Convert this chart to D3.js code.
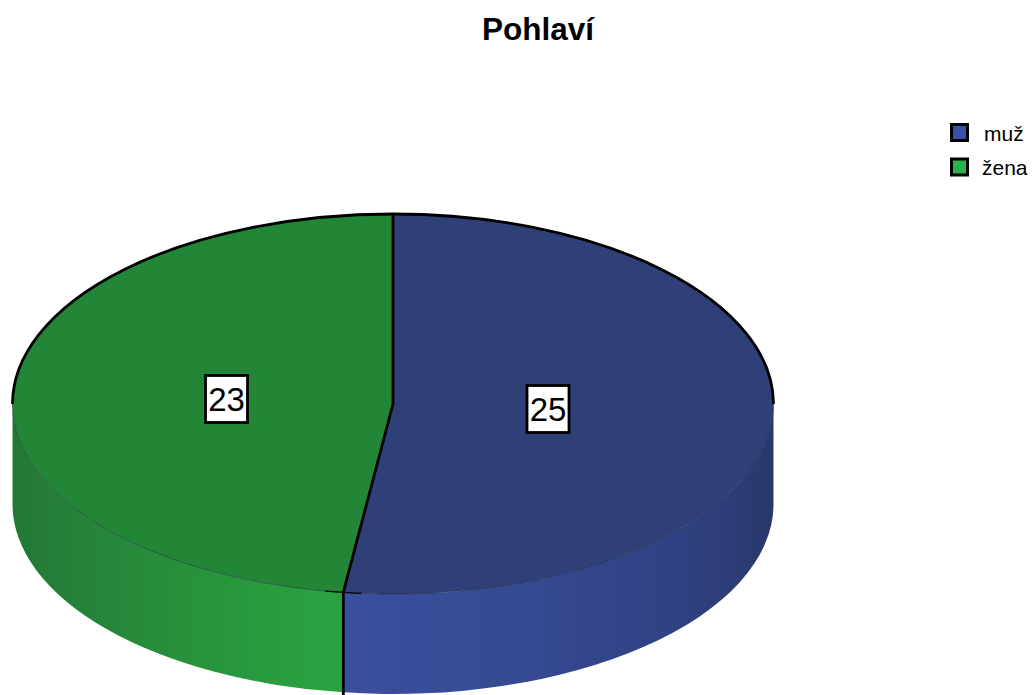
<!DOCTYPE html>
<html><head><meta charset="utf-8">
<script src="https://cdn.jsdelivr.net/npm/d3@7"></script>
<style>html,body{margin:0;padding:0;background:#fff}svg{display:block}text{font-family:"Liberation Sans",Arial,sans-serif}</style>
</head><body><svg id="c" width="1034" height="695"></svg>
<script>
const title = "Pohlaví";
const categories = ["muž", "žena"];
const counts = [25, 23];
const topColors = ["#2f4079", "#238636"];
const legendColors = ["#3b50a3", "#2bb04a"];

const svg = d3.select("#c");
const cx = 393, cy = 404, rx = 380.5, ry = 190, depth = 100;
const pieData = d3.pie().sort(null).value(d => d)(counts);
const ex = a => cx + rx * Math.sin(a), ey = a => cy - ry * Math.cos(a);

const defs = svg.append("defs");
const sideX = d3.scaleLinear().domain([13, 343, 773]).range([0, 0.434, 1]);
const grads = [
  [[343,"#3a4f9e"],[520,"#364a93"],[650,"#314385"],[730,"#2d3d78"],[773,"#29376a"]],
  [[13,"#237835"],[90,"#25843a"],[200,"#27933b"],[300,"#2a9f3e"],[343,"#2ba240"]]
];
grads.forEach((stops, i) => {
  const g = defs.append("linearGradient").attr("id", "side" + i)
    .attr("gradientUnits", "userSpaceOnUse").attr("x1", 13).attr("x2", 773).attr("y1", 0).attr("y2", 0);
  stops.forEach(s => g.append("stop").attr("offset", sideX(s[0])).attr("stop-color", s[1]));
});

function sidePath(a0, a1) {
  // only the front-facing part of the rim (angles between 90° and 270°)
  const s = Math.max(a0, Math.PI / 2), e = Math.min(a1, 3 * Math.PI / 2);
  return `M${ex(s)},${ey(s)}A${rx},${ry} 0 0 1 ${ex(e)},${ey(e)}L${ex(e)},${ey(e) + depth}A${rx},${ry} 0 0 0 ${ex(s)},${ey(s) + depth}Z`;
}
pieData.forEach((d, i) => {
  svg.append("path").attr("d", sidePath(d.startAngle, d.endAngle)).attr("fill", `url(#side${i})`);
});

const arcGen = d3.arc().innerRadius(0).outerRadius(rx);
const topG = svg.append("g").attr("transform", `translate(${cx},${cy}) scale(1,${ry / rx})`);
topG.selectAll("path").data(pieData).join("path").attr("d", arcGen).attr("fill", (d, i) => topColors[i]);

// thin front rim, heavier back rim
svg.append("path").attr("d", `M${ex(Math.PI*1.5)},${ey(Math.PI*1.5)}A${rx},${ry} 0 0 0 ${ex(Math.PI*.5)},${ey(Math.PI*.5)}`)
  .attr("fill", "none").attr("stroke", "#10203a").attr("stroke-opacity", .75).attr("stroke-width", .7);
svg.append("path").attr("d", `M${ex(Math.PI*1.5)},${ey(Math.PI*1.5)}A${rx},${ry} 0 0 1 ${ex(Math.PI*.5)},${ey(Math.PI*.5)}`)
  .attr("fill", "none").attr("stroke", "#000").attr("stroke-width", 2.8);

// slice boundaries
const split = pieData[0].endAngle;
svg.append("path").attr("d", `M${cx},${cy - ry}L${cx},${cy}L${ex(split)},${ey(split)}L${ex(split)},${ey(split) + depth + 4}`)
  .attr("fill", "none").attr("stroke", "#000").attr("stroke-width", 2.8).attr("stroke-linejoin", "round");
svg.append("path").attr("d", `M${ex(split)-18},${ey(split)-1.2}L${ex(split)},${ey(split)}L${ex(split)+18},${ey(split)+1}`)
  .attr("fill", "none").attr("stroke", "#000").attr("stroke-width", 1.2);

// value labels
const labelPos = [[548, 409], [226.5, 399]];
counts.forEach((v, i) => {
  const [x, y] = labelPos[i];
  svg.append("rect").attr("x", x - 21).attr("y", y - 23.5).attr("width", 42).attr("height", 47)
    .attr("fill", "#fff").attr("stroke", "#000").attr("stroke-width", 2.8);
  svg.append("text").attr("x", x).attr("y", y + 12).attr("text-anchor", "middle")
    .attr("font-size", 33).attr("fill", "#000").text(v);
});

svg.append("text").attr("x", 538).attr("y", 40).attr("text-anchor", "middle")
  .attr("font-size", 31.5).attr("font-weight", "bold").attr("fill", "#000").text(title);

const legY = d3.scalePoint().domain(categories).range([132.5, 167]);
categories.forEach((c, i) => {
  svg.append("rect").attr("x", 951.5).attr("y", legY(c) - 8).attr("width", 16).attr("height", 16)
    .attr("fill", legendColors[i]).attr("stroke", "#000").attr("stroke-width", 3);
  svg.append("text").attr("x", i === 0 ? 984 : 982).attr("y", legY(c) + 8)
    .attr("font-size", 21).attr("fill", "#000").text(c);
});
</script></body></html>
